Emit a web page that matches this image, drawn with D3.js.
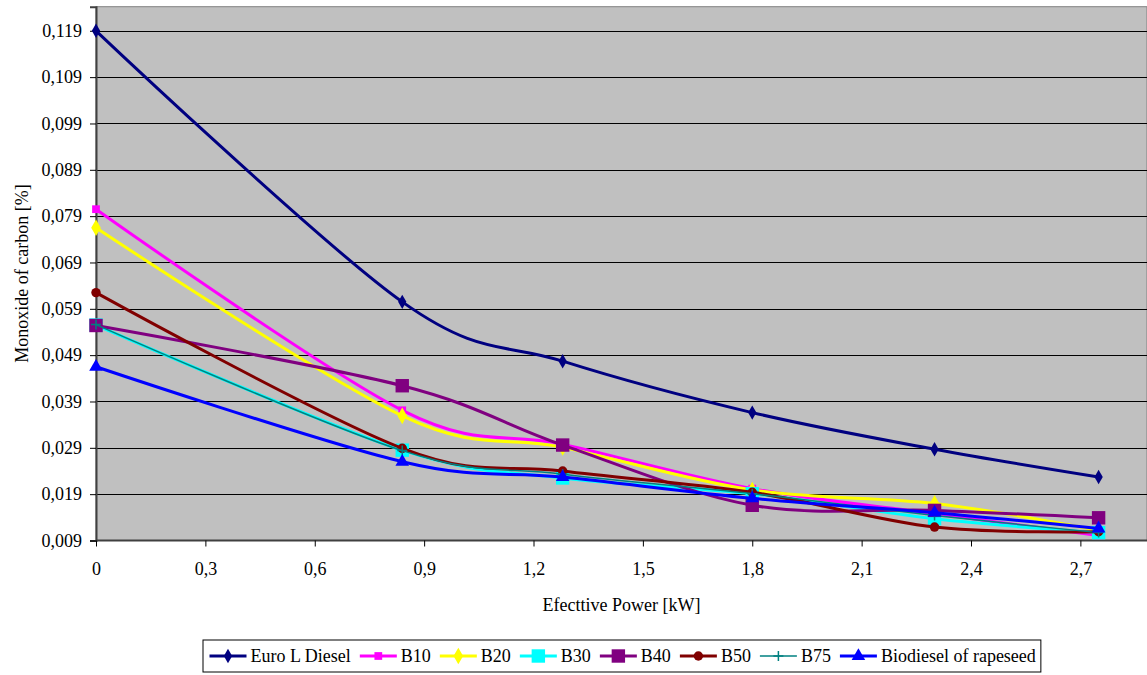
<!DOCTYPE html>
<html><head><meta charset="utf-8">
<script src="https://cdn.jsdelivr.net/npm/d3@7"></script>
<style>
body{margin:0;background:#fff}
</style>
</head><body>
<svg id="c" width="1147" height="675"></svg>
<script>
// ---- data ----
const power = [0, 0.84, 1.28, 1.8, 2.3, 2.75];
const seriesNames = ["Euro L Diesel", "B10", "B20", "B30", "B40", "B50", "B75", "Biodiesel of rapeseed"];
const euroDiesel = [0.119, 0.0605, 0.0477, 0.0366, 0.0287, 0.0227];
const b10 = [0.0805, 0.0371, 0.0298, 0.0202, 0.0148, 0.0101];
const b20 = [0.0765, 0.0359, 0.0291, 0.0199, 0.0170, 0.0112];
const b30 = [0.0555, 0.0285, 0.0225, 0.0191, 0.0137, 0.0107];
const b40 = [0.0554, 0.0424, 0.0296, 0.0166, 0.0155, 0.0139];
const b50 = [0.0625, 0.0289, 0.0240, 0.0194, 0.0119, 0.0109];
const b75 = [0.0556, 0.0284, 0.0233, 0.0191, 0.0144, 0.0107];
const rapeseed = [0.0465, 0.0260, 0.0227, 0.0181, 0.0150, 0.0116];
const yTickValues = [0.009, 0.019, 0.029, 0.039, 0.049, 0.059, 0.069, 0.079, 0.089, 0.099, 0.109, 0.119];
const xTickValues = [0, 0.3, 0.6, 0.9, 1.2, 1.5, 1.8, 2.1, 2.4, 2.7];
const xTitle = "Efecttive Power [kW]";
const yTitle = "Monoxide of carbon [%]";

// ---- styles ----
const FONT = "Liberation Serif";
const styles = [
  {color:"#000080", marker:"diamond", size:60},
  {color:"#FF00FF", marker:"square", size:60},
  {color:"#FFFF00", marker:"diamond", size:80},
  {color:"#00FFFF", marker:"square", size:180},
  {color:"#800080", marker:"square", size:180},
  {color:"#800000", marker:"circle", size:70},
  {color:"#008080", marker:"plus", size:0},
  {color:"#0000FF", marker:"triangle", size:80}
];
const values = [euroDiesel, b10, b20, b30, b40, b50, b75, rapeseed];

const svg = d3.select("#c");
const L = 96, R = 1146, T = 6.7, B = 540.5;
const x = d3.scaleLinear().domain([0, 2.88]).range([L, R]);
const y = d3.scaleLinear().domain([0.009, 0.1242]).range([B, T]);
const comma = s => s.replace(".", ",");
const setFont = sel => sel.attr("font-family", FONT).style("font-family", `"${FONT}"`).style("font-size", "18px").attr("fill", "#000");

// plot area
svg.append("rect").attr("x", L).attr("y", T).attr("width", 1147 - L).attr("height", B - T)
  .attr("fill", "#C0C0C0").attr("stroke", "#808080").attr("stroke-width", 1);

// gridlines
svg.append("g").selectAll("line").data(yTickValues.slice(1)).join("line")
  .attr("x1", L).attr("x2", 1147).attr("y1", d => Math.round(y(d)) + 0.5).attr("y2", d => Math.round(y(d)) + 0.5)
  .attr("stroke", "#000").attr("stroke-width", 1);

// axes
const yAxis = d3.axisLeft(y).tickValues(yTickValues).tickSize(6).tickPadding(8)
  .tickFormat(d => comma(d3.format(".3f")(d)));
const gy = svg.append("g").attr("transform", `translate(${L},0)`).call(yAxis);
gy.attr("font-family", FONT).attr("font-size", 18);
gy.select(".domain").attr("stroke", "#404040").attr("stroke-width", 2);
gy.selectAll(".tick line").attr("stroke", "#000");
setFont(gy.selectAll(".tick text"));

const xAxis = d3.axisBottom(x).tickValues(xTickValues).tickSize(6).tickPadding(16)
  .tickFormat(d => d === 0 ? "0" : comma(d3.format(".1f")(d)));
const gx = svg.append("g").attr("transform", `translate(0,${B})`).call(xAxis);
gx.attr("font-family", FONT).attr("font-size", 18);
gx.select(".domain").attr("d", `M${L},0H1147`).attr("stroke", "#404040").attr("stroke-width", 2);
gx.selectAll(".tick line").attr("stroke", "#000");
setFont(gx.selectAll(".tick text"));

// titles
setFont(svg.append("text").attr("x", (L + 1147) / 2).attr("y", 611).attr("text-anchor", "middle")).text(xTitle);
setFont(svg.append("text").attr("transform", `translate(28,${(T + B) / 2}) rotate(-90)`).attr("text-anchor", "middle")).text(yTitle);

// marker drawing
function drawMarker(g, st, cx, cy) {
  if (st.marker === "plus") {
    g.append("path").attr("d", `M${cx-5},${cy}H${cx+5}M${cx},${cy-5}V${cy+5}`)
      .attr("stroke", st.color).attr("stroke-width", 1.5).attr("fill", "none");
    return;
  }
  const typ = {diamond: d3.symbolDiamond, square: d3.symbolSquare, circle: d3.symbolCircle, triangle: d3.symbolTriangle}[st.marker];
  g.append("path").attr("d", d3.symbol().type(typ).size(st.size)())
    .attr("transform", `translate(${cx},${cy})`).attr("fill", st.color);
}

// series
const line = d3.line().x(d => x(d[0])).y(d => y(d[1])).curve(d3.curveCatmullRom.alpha(0));
const plot = svg.append("g");
values.forEach((vals, i) => {
  const st = styles[i];
  const pts = power.map((p, j) => [p, vals[j]]);
  plot.append("path").attr("d", line(pts)).attr("fill", "none")
    .attr("stroke", st.color).attr("stroke-width", i === 6 ? 1.5 : 3);
  const mg = plot.append("g");
  pts.forEach(p => drawMarker(mg, st, x(p[0]), y(p[1])));
});

// legend
const lg = svg.append("g");
const box = lg.append("rect").attr("y", 640).attr("height", 32).attr("fill", "#fff")
  .attr("stroke", "#000").attr("stroke-width", 1);
let cur = 209.5;
seriesNames.forEach((name, i) => {
  const st = styles[i];
  const cy = 656;
  lg.append("line").attr("x1", cur).attr("x2", cur + 37).attr("y1", cy).attr("y2", cy)
    .attr("stroke", st.color).attr("stroke-width", i === 6 ? 1.5 : 3);
  drawMarker(lg, st, cur + 18.5, cy);
  const t = setFont(lg.append("text").attr("x", cur + 41).attr("y", cy + 6)).text(name);
  cur = cur + 41 + t.node().getComputedTextLength() + 9;
});
box.attr("x", 203).attr("width", cur - 203 - 4);
</script>
</body></html>
